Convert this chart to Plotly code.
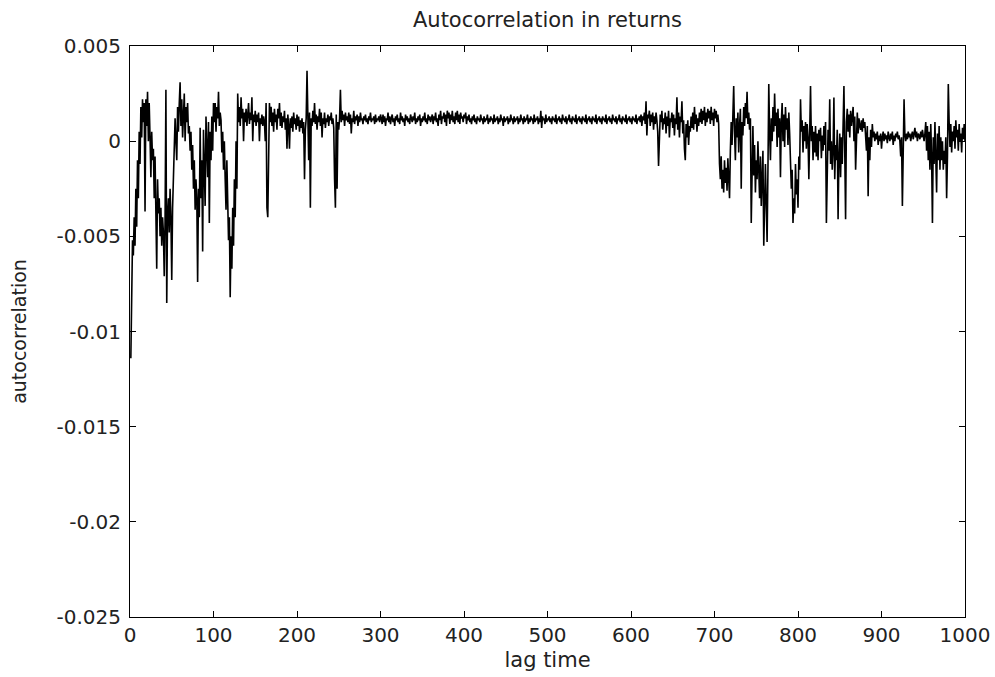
import plotly.graph_objects as go

# autocorrelation values, in units of 1e-4, lags 1..1000
acf_e4 = [
    -114, -70, -52, -60, -40, -55, -25, -45, -10, -30,
    5, -12, 18, 2, 22, 10, 20, -37, 22, 8,
    26, 0, 20, 2, -19, 5, -10, -4, -30, -8,
    -45, -67, -20, -38, -30, -50, -35, -55, -40, -48,
    -71, -42, 27, -85, -38, -30, -48, -25, -40, -73,
    -35, -20, -5, 12, 0, -10, 18, 5, 20, 31,
    8, 22, 2, 15, 25, 0, 18, 10, 20, 4,
    8, -5, 5, -15, -2, -25, -10, -36, -20, -30,
    -74, -25, -40, 7, -30, -10, -58, 6, -20, -34,
    13, -5, -19, 10, -43, 5, -10, 13, -5, 20,
    10, 20, 5, 18, 12, 26, 8, 15, 11, -6,
    5, -15, 0, -20, -36, -10, -30, -52, -40, -82,
    -50, -67, -35, -55, -20, -40, 0, -25, 25, 10,
    18, 8, 23, 12, 17, 0, 15, 10, 17, 8,
    14, 20, 9, 15, 11, 23, 0, 14, 10, 16,
    8, 14, 10, 15, 0, 12, 9, 14, 8, 13,
    10, 0, 20, -35, -40, 5, 20, 10, 18, 8,
    15, 5, 17, 10, 14, 6, 17, 12, 20, 8,
    15, 7, 13, 10, 16, 6, 12, -4, 14, 8,
    -4, 12, 7, 13, 5, 15, 9, 12, 6, 14,
    8, 13, 5, 11, 7, 12, 4, 10, -20, 6,
    12, 37, 10, -10, 15, -35, 12, 8, 16, 10,
    20, 9, 14, 6, 13, 10, 17, 8, 15, 2,
    12, 9, 15, 7, 12, 10, 14, 8, 13, 11,
    15, 9, 12, 7, -20, -35, 14, -25, 10, 6,
    12, 27, 10, 16, 11, 14, 8, 15, 11, 13,
    10, 15, 9, 14, 4, 12, 10, 16, 9, 13,
    11, 14, 8, 13, 10, 15, 11, 12, 9, 13,
    11, 14, 10, 12, 9, 13, 11, 15, 10, 12,
    11, 13, 9, 14, 10, 12, 11, 13, 10, 14,
    12, 9, 14, 10, 13, 8, 12, 11, 15, 10,
    13, 9, 12, 14, 10, 12, 8, 13, 11, 14,
    10, 12, 9, 15, 11, 13, 10, 12, 8, 14,
    11, 13, 10, 12, 9, 14, 12, 10, 13, 11,
    15, 9, 12, 10, 13, 11, 14, 8, 12, 10,
    13, 11, 15, 10, 12, 9, 14, 11, 13, 10,
    12, 14, 9, 13, 11, 15, 10, 12, 8, 14,
    11, 16, 9, 13, 12, 15, 10, 14, 8, 16,
    12, 15, 9, 14, 11, 16, 10, 13, 9, 15,
    11, 16, 10, 14, 9, 15, 12, 13, 10, 14,
    12, 15, 9, 13, 11, 14, 10, 12, 9, 13,
    11, 14, 10, 12, 9, 13, 11, 12, 10, 14,
    11, 12, 9, 13, 10, 12, 11, 14, 9, 12,
    10, 13, 11, 12, 9, 14, 10, 12, 11, 13,
    9, 12, 10, 14, 11, 12, 8, 13, 10, 12,
    11, 13, 9, 12, 10, 14, 11, 12, 9, 13,
    10, 12, 11, 13, 9, 12, 10, 14, 11, 12,
    9, 13, 10, 12, 11, 14, 9, 12, 10, 13,
    11, 12, 9, 14, 10, 12, 11, 13, 9, 12,
    10, 16, 7, 13, 11, 12, 9, 14, 10, 12,
    11, 13, 10, 12, 9, 13, 11, 12, 10, 14,
    9, 12, 11, 13, 10, 12, 9, 14, 11, 12,
    10, 13, 9, 12, 11, 14, 10, 12, 9, 13,
    11, 12, 10, 14, 9, 12, 11, 13, 10, 12,
    9, 13, 11, 12, 10, 14, 9, 12, 11, 13,
    10, 12, 9, 13, 11, 12, 10, 14, 9, 12,
    11, 13, 10, 12, 9, 13, 11, 12, 10, 14,
    9, 12, 11, 13, 10, 12, 9, 14, 11, 12,
    10, 13, 9, 12, 11, 14, 10, 12, 9, 13,
    11, 12, 10, 14, 9, 12, 11, 13, 10, 12,
    9, 13, 11, 12, 10, 14, 9, 12, 11, 13,
    10, 14, 8, 13, 11, 15, 9, 21, 3, 14,
    12, 16, 8, 14, 10, 15, 6, 13, 9, 15,
    11, 5, -13, 8, 14, 10, 16, 6, 12, 9,
    15, 4, 13, 8, 16, 2, 12, 10, 15, 7,
    14, 3, 12, 9, 23, 6, 15, 2, 13, 10,
    21, 4, 11, -4, -10, 9, 2, 11, -2, 8,
    5, 13, 7, 15, 6, 18, 9, 14, 5, 12,
    8, 15, 10, 17, 9, 16, 11, 18, 8, 15,
    10, 17, 12, 16, 9, 18, 11, 15, 8, 17,
    12, 16, 10, 14, 9, -12, -20, -8, -25, -15,
    -27, -10, -22, -14, -26, -9, -20, -30, -5, 10,
    -2, 17, 29, 5, -10, 12, 2, 15, -6, 8,
    17, -25, 10, 3, 18, 8, 20, 12, 26, 9,
    15, 6, 12, -43, -5, 8, -18, -2, -27, -10,
    -20, 0, -15, -30, -8, -34, -20, -5, -55, -25,
    -12, -34, -53, -15, 30, 5, -10, 12, 0, 18,
    5, 25, 8, 15, -3, 17, 2, 12, -19, 10,
    20, 0, 14, -3, 18, 6, 12, -2, 15, 4,
    -10, -25, -15, -43, -30, -38, -12, -28, -20, -35,
    -8, -15, 22, 5, 11, -6, 8, 0, 10, -4,
    9, 2, -20, 6, 29, 0, 8, -10, 5, -6,
    8, -8, 4, -10, 6, 0, 7, -9, 3, -5,
    8, -2, 10, -43, 0, 6, -5, 22, -12, 0,
    -15, -5, 23, -20, -2, -10, 6, -41, -8, 4,
    -19, 2, -12, 6, 29, -5, -41, 10, 17, 5,
    14, 2, 16, 8, 12, 18, 0, 13, -15, 10,
    15, 4, 12, 8, 6, 11, 5, 12, 7, 10,
    4, -5, 8, -29, 2, -10, 6, -3, 9, 2,
    5, 0, 4, 1, 5, -2, 3, 0, 4, -4,
    2, 5, 0, 4, 1, 3, -1, 5, 2, 0,
    4, 1, 5, -2, 3, 0, 4, 2, 5, 1,
    3, 0, -8, 2, -34, 5, 22, 3, 0, 4,
    1, 5, 2, 4, 0, 3, 5, 1, 4, 7,
    2, 5, 0, 4, 3, 1, 5, 2, 6, 3,
    0, 4, 10, -5, 8, -10, 5, -15, 9, -8,
    -43, 2, -12, 10, -6, -27, 4, -10, 8, -15,
    2, -10, 0, -15, -5, -12, 2, -30, -8, 30,
    10, -3, 9, -6, 5, 0, 8, -4, 11, 2,
    6, -5, 9, 0, 4, -6, 7, 1, 9, 0,
]
acf = [v * 1e-4 for v in acf_e4]
lags = list(range(1, len(acf) + 1))

x_ticks = [0, 100, 200, 300, 400, 500, 600, 700, 800, 900, 1000]
y_ticks = [-0.025, -0.02, -0.015, -0.01, -0.005, 0, 0.005]
y_ticktext = ["-0.025", "-0.02", "-0.015", "-0.01", "-0.005", "0", "0.005"]

font_family = "DejaVu Sans, Liberation Sans, Arial, sans-serif"
txt_color = "#222222"

fig = go.Figure()
fig.add_trace(go.Scatter(x=lags, y=acf, mode="lines",
                         line=dict(color="black", width=1.6),
                         showlegend=False, hoverinfo="skip"))

axis_common = dict(showgrid=False, zeroline=False, showline=True,
                   linecolor="black", linewidth=1, mirror="ticks",
                   ticks="inside", ticklen=6, tickcolor="black",
                   automargin=False,
                   tickfont=dict(family=font_family, size=20, color=txt_color))

fig.update_layout(
    width=995, height=677,
    margin=dict(l=130, r=30, t=46, b=60),
    paper_bgcolor="white", plot_bgcolor="white",
    title=dict(text="Autocorrelation in returns", x=0.5, xref="paper",
               xanchor="center",
               y=1 - 20 / 677, yref="container", yanchor="middle",
               font=dict(family=font_family, size=21, color=txt_color)),
    xaxis=dict(range=[0, 1000], tickvals=x_ticks,
               title=dict(text="lag time", standoff=6,
                          font=dict(family=font_family, size=21, color=txt_color)),
               **axis_common),
    yaxis=dict(range=[-0.025, 0.005], tickvals=y_ticks, ticktext=y_ticktext,
               ticklabelstandoff=4,
               title=dict(text="autocorrelation", standoff=24,
                          font=dict(family=font_family, size=19, color=txt_color)),
               **axis_common),
)

fig.write_html("out.html")
